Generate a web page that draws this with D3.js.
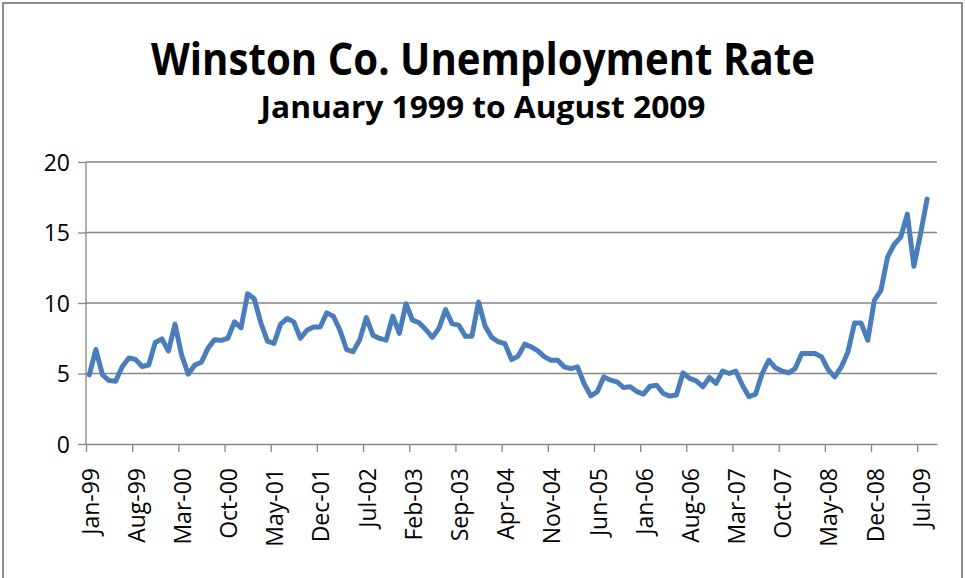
<!DOCTYPE html>
<html>
<head>
<meta charset="utf-8">
<script src="https://cdn.jsdelivr.net/npm/d3@7"></script>
<style>
    body { margin: 0; background: #fff; }
    svg { display: block; }
    .axis path, .axis line { stroke: #868686; stroke-width: 1.3; }
    .axis text { font-family: "Open Sans", sans-serif; font-size: 23px; fill: #000; }
</style>
</head>
<body>
<div id="chart"></div>
<script>
// Monthly unemployment rate, Jan 1999 .. Aug 2009 (128 months)
const rates = [
    4.9, 6.7, 4.9, 4.5, 4.45, 5.5, 6.1, 6.0, 5.5, 5.6, 7.2, 7.45,
    6.6, 8.5, 6.3, 4.95, 5.6, 5.8, 6.8, 7.4, 7.35, 7.5, 8.66, 8.24,
    10.66, 10.3, 8.6, 7.3, 7.14, 8.5, 8.9, 8.66, 7.5, 8.07, 8.3, 8.3,
    9.3, 9.06, 8.07, 6.7, 6.55, 7.4, 8.97, 7.72, 7.49, 7.37, 9.06, 7.84,
    9.95, 8.78, 8.6, 8.12, 7.56, 8.2, 9.53, 8.54, 8.43, 7.65, 7.65, 10.07,
    8.36, 7.56, 7.25, 7.12, 5.99, 6.23, 7.08, 6.89, 6.6, 6.18, 5.94, 5.94,
    5.47, 5.35, 5.47, 4.29, 3.42, 3.7, 4.76, 4.53, 4.41, 4.0, 4.06, 3.72,
    3.54, 4.1, 4.17, 3.58, 3.4, 3.47, 5.05, 4.65, 4.48, 4.06, 4.72, 4.29,
    5.17, 5.0, 5.17, 4.17, 3.35, 3.54, 5.0, 5.94, 5.4, 5.17, 5.05, 5.35,
    6.42, 6.42, 6.42, 6.18, 5.28, 4.76, 5.47, 6.53, 8.58, 8.58, 7.36, 10.19,
    10.9, 13.25, 14.15, 14.67, 16.3, 12.6, 14.9, 17.38
];

// Month index of each tick (every 7 months) and its label
const tickMonths = [0, 7, 14, 21, 28, 35, 42, 49, 56, 63, 70, 77, 84, 91, 98, 105, 112, 119, 126];
const tickLabels = ["Jan-99", "Aug-99", "Mar-00", "Oct-00", "May-01", "Dec-01", "Jul-02",
    "Feb-03", "Sep-03", "Apr-04", "Nov-04", "Jun-05", "Jan-06", "Aug-06", "Mar-07",
    "Oct-07", "May-08", "Dec-08", "Jul-09"];
const yTicks = [0, 5, 10, 15, 20];

const width = 965;
const height = 578;
const margin = { top: 162, right: 28, bottom: 134, left: 86 };

const svg = d3.select("#chart")
    .append("svg")
    .attr("width", width)
    .attr("height", height);

// Outer chart border
svg.append("rect")
    .attr("x", 3)
    .attr("y", 3)
    .attr("width", 959)
    .attr("height", 590)
    .attr("fill", "none")
    .attr("stroke", "#8c8c8c")
    .attr("stroke-width", 2);

// Titles
svg.append("text")
    .attr("x", 483)
    .attr("y", 75)
    .attr("text-anchor", "middle")
    .attr("textLength", 664)
    .attr("lengthAdjust", "spacingAndGlyphs")
    .style("font-family", "'Open Sans', sans-serif")
    .style("font-weight", "bold")
    .style("font-size", "45px")
    .text("Winston Co. Unemployment Rate");

svg.append("text")
    .attr("x", 483)
    .attr("y", 118)
    .attr("text-anchor", "middle")
    .attr("textLength", 445)
    .attr("lengthAdjust", "spacingAndGlyphs")
    .style("font-family", "'Open Sans', sans-serif")
    .style("font-weight", "bold")
    .style("font-size", "31px")
    .text("January 1999 to August 2009");

// Scales: x runs over month slots, each point sits in the middle of its month
const x = d3.scaleLinear()
    .domain([0, rates.length + 1])
    .range([margin.left, width - margin.right]);

const y = d3.scaleLinear()
    .domain([0, 20])
    .range([height - margin.bottom, margin.top]);

// Horizontal gridlines
svg.append("g")
    .selectAll("line")
    .data(yTicks.filter(d => d > 0))
    .enter()
    .append("line")
    .attr("x1", x(0))
    .attr("x2", x(rates.length + 1))
    .attr("y1", d => y(d))
    .attr("y2", d => y(d))
    .attr("stroke", "#868686")
    .attr("stroke-width", 1.3);

// Y axis
const yAxis = svg.append("g")
    .attr("class", "axis")
    .attr("transform", `translate(${x(0)},0)`)
    .call(d3.axisLeft(y).tickValues(yTicks).tickSize(8).tickPadding(8));
yAxis.select(".domain").attr("d", `M0,${y(0)}V${y(20)}`);
yAxis.selectAll("text").attr("dy", "0.36em");

// X axis
const xAxis = svg.append("g")
    .attr("class", "axis")
    .attr("transform", `translate(0,${y(0)})`)
    .call(d3.axisBottom(x)
        .tickValues(tickMonths)
        .tickFormat((d, i) => tickLabels[i])
        .tickSize(8)
        .tickSizeOuter(0));

// Rotated labels reading upward, ending just under the tick
xAxis.selectAll("text")
    .attr("text-anchor", "end")
    .attr("transform", "rotate(-90)")
    .attr("x", -24)
    .attr("y", 4)
    .attr("dy", "0.35em");

// Line
const line = d3.line()
    .x((d, i) => x(i + 0.5))
    .y(d => y(d));

svg.append("path")
    .datum(rates)
    .attr("fill", "none")
    .attr("stroke", "#4a7ebb")
    .attr("stroke-width", 5)
    .attr("stroke-linejoin", "round")
    .attr("stroke-linecap", "round")
    .attr("d", line);
</script>
</body>
</html>
